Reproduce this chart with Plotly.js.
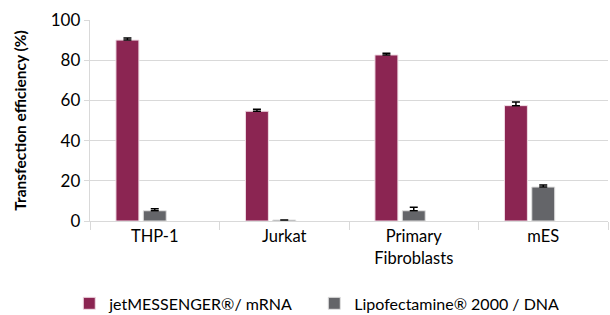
<!DOCTYPE html>
<html><head><meta charset="utf-8">
<script src="https://cdn.plot.ly/plotly-3.0.1.min.js"></script>
<style>body{margin:0;background:#fff}#c{width:610px;height:315px}</style>
</head><body><div id="c"></div>
<script>
const categories = ["THP-1", "Jurkat", "Primary<br>Fibroblasts", "mES"];
const jetValues = [90, 54.6, 82.6, 57.4];
const jetErrors = [1, 1, 0.8, 1.8];
const lipoValues = [5.1, 0.5, 5.1, 16.9];
const lipoErrors = [1, 0, 1.7, 1];
const seriesNames = ["jetMESSENGER®/ mRNA", "Lipofectamine® 2000 / DNA"];
const yTicks = [0, 20, 40, 60, 80, 100];

const font = "Lato, 'Open Sans', sans-serif";
const zeros = categories.map(()=>0);
const traces = [
  {type:"bar", x:categories, y:jetValues, name:seriesNames[0],
   marker:{color:"#8B2552", line:{color:"#f0dbe4", width:1}},
   error_y:{type:"data", symmetric:false, array:jetErrors, arrayminus:zeros, visible:true, color:"#000", thickness:1.5, width:4}},
  {type:"bar", x:categories, y:lipoValues, name:seriesNames[1],
   marker:{color:"#646569", line:{color:"#e0e0e0", width:1}},
   error_y:{type:"data", symmetric:false, array:lipoErrors, arrayminus:zeros, visible:true, color:"#000", thickness:1.5, width:4}},
  {type:"bar", x:categories, y:categories.map(()=>null), showlegend:false, hoverinfo:"skip"}
];
const layout = {
  width:610, height:315,
  margin:{l:90, r:2, t:20, b:94, autoexpand:false},
  barmode:"group", bargap:0.367, bargroupgap:0.16,
  paper_bgcolor:"#fff", plot_bgcolor:"#fff",
  font:{family:font, color:"#000", size:16},
  yaxis:{range:[0,100], tickvals:yTicks, showgrid:true, gridcolor:"#d9d9d9", gridwidth:1.3,
    showline:true, linecolor:"#d9d9d9", linewidth:1.3, ticks:"outside", ticklen:5, tickcolor:"#d9d9d9",
    tickfont:{size:17, family:font}, zeroline:false, automargin:false,
    title:{text:"Transfection efficiency (%)", font:{size:15.5, family:font, weight:"bold"}, standoff:20}},
  xaxis:{showline:true, linecolor:"#d9d9d9", linewidth:1.3, ticks:"outside", ticklen:8, tickcolor:"#d9d9d9",
    tickson:"boundaries", tickfont:{size:16.5, family:font}, showgrid:false, automargin:false},
  legend:{orientation:"h", x:-0.04, xanchor:"left", y:-0.41, yanchor:"middle",
    font:{size:16, family:font}, entrywidth:200, itemwidth:30, traceorder:"normal"},
  showlegend:true
};
Plotly.newPlot("c", traces, layout, {displayModeBar:false, staticPlot:true});
</script></body></html>
